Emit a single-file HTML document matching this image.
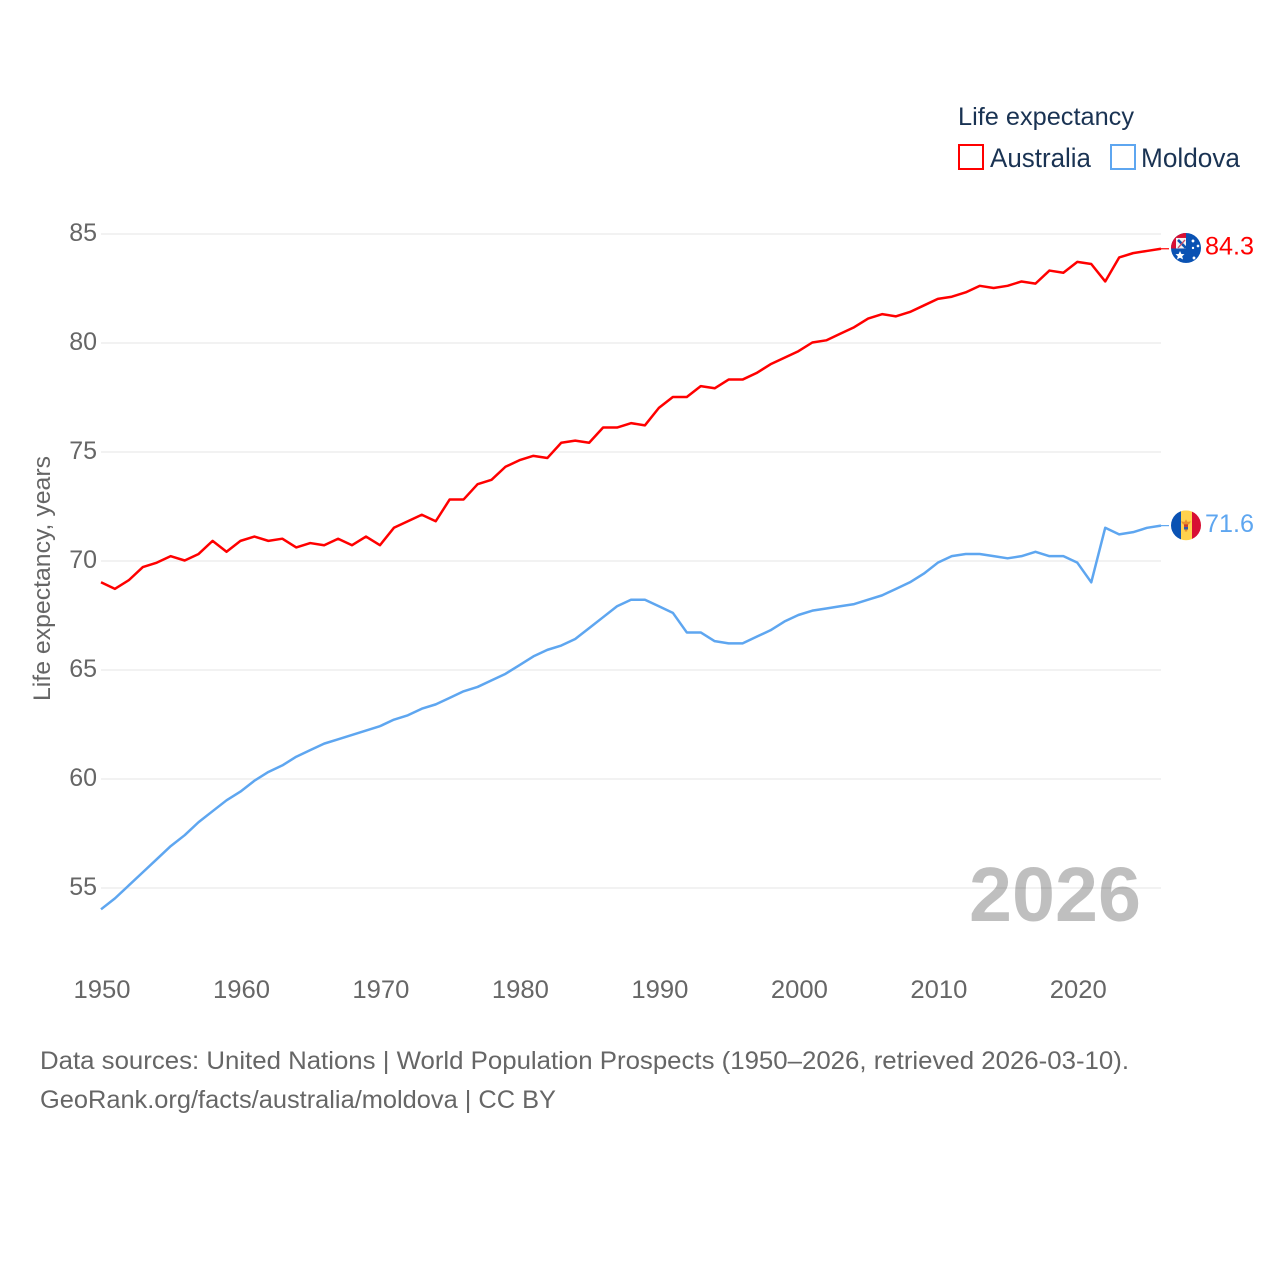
<!DOCTYPE html>
<html lang="en">
<head>
<meta charset="utf-8">
<title>Life expectancy: Australia and Moldova</title>
<style>
html,body{margin:0;padding:0;background:#fff;width:1280px;height:1280px;overflow:hidden}
svg{display:block}
text{font-family:"Liberation Sans",sans-serif}
</style>
</head>
<body>
<svg id="chart" xmlns="http://www.w3.org/2000/svg" width="1280" height="1280" viewBox="0 0 1280 1280">
  <defs>
    <clipPath id="clip-au"><circle cx="0" cy="0" r="15"></circle></clipPath>
    <clipPath id="clip-md"><circle cx="0" cy="0" r="15"></circle></clipPath>
  </defs>
  <g id="grid"></g>
  <g id="yticks"></g>
  <g id="xticks"></g>
  <text transform="translate(50,701) rotate(-90)" font-size="24" fill="#666" textLength="245" lengthAdjust="spacingAndGlyphs">Life expectancy, years</text>
  <text x="969" y="921" font-size="77" font-weight="700" fill="#000" fill-opacity="0.25" textLength="172" lengthAdjust="spacingAndGlyphs">2026</text>
  <g id="series"></g>

  <g id="flag-au">
    <g clip-path="url(#clip-au)">
      <rect x="-15" y="-15" width="30" height="30" fill="#0a52b3"></rect>
      <rect x="-15" y="-15" width="15" height="15.5" fill="#d80f33"></rect>
      <rect x="-10" y="-10" width="10" height="10.5" fill="#f4f4f4"></rect>
      <path d="M-8,-8 L0,0" stroke="#0a52b3" stroke-width="2.6"></path>
      <path d="M-1,-8 L-8,0" stroke="#c9506a" stroke-width="1.4"></path>
      <path d="M-6,3 L-4.6,6 L-1.5,6.2 L-3.8,8.3 L-3,11.5 L-6,9.8 L-9,11.5 L-8.2,8.3 L-10.5,6.2 L-7.4,6 Z" fill="#fff"></path>
      <circle cx="7" cy="-7" r="1.4" fill="#fff"></circle>
      <circle cx="12" cy="-2" r="1.3" fill="#fff"></circle>
      <circle cx="7" cy="0" r="1.2" fill="#fff"></circle>
      <circle cx="8" cy="10" r="1.4" fill="#fff"></circle>
    </g>
  </g>
  <g id="flag-md">
    <g clip-path="url(#clip-md)">
      <rect x="-15" y="-15" width="10" height="30" fill="#0a52b3"></rect>
      <rect x="-5" y="-15" width="11" height="30" fill="#ffd24d"></rect>
      <rect x="6" y="-15" width="9" height="30" fill="#d80f33"></rect>
      <path d="M-5,-4 L-1.5,-3.5 L0,-6 L1.5,-3.5 L5,-4 L3,-1 L-3,-1 Z" fill="#e8912d"></path>
      <rect x="-2" y="-1" width="4" height="2.6" fill="#c9392b"></rect>
      <rect x="-2" y="1.6" width="4" height="2.6" fill="#2e5aa8"></rect>
      <rect x="-1.2" y="4.2" width="2.4" height="2" fill="#e8912d"></rect>
    </g>
  </g>
  <text id="label-au" x="1205" font-size="25" fill="#ff0000" textLength="49" lengthAdjust="spacingAndGlyphs"></text>
  <text id="label-md" x="1205" font-size="25" fill="#5ea6f0" textLength="49" lengthAdjust="spacingAndGlyphs"></text>

  <g>
    <text x="958" y="125" font-size="25" fill="#1a3353" textLength="176" lengthAdjust="spacingAndGlyphs">Life expectancy</text>
    <g>
      <rect x="959" y="145" width="24" height="24" fill="none" stroke="#ff0000" stroke-width="2"></rect>
      <text x="990" y="167" font-size="27" fill="#1a3353" textLength="101" lengthAdjust="spacingAndGlyphs">Australia</text>
    </g>
    <g>
      <rect x="1111" y="145" width="24" height="24" fill="none" stroke="#5ea6f0" stroke-width="2"></rect>
      <text x="1141" y="167" font-size="27" fill="#1a3353" textLength="99" lengthAdjust="spacingAndGlyphs">Moldova</text>
    </g>
  </g>

  <g>
    <text x="40" y="1069" font-size="25" fill="#666" textLength="1089" lengthAdjust="spacingAndGlyphs">Data sources: United Nations | World Population Prospects (1950–2026, retrieved 2026-03-10).</text>
    <text x="40" y="1108" font-size="25" fill="#666" textLength="516" lengthAdjust="spacingAndGlyphs">GeoRank.org/facts/australia/moldova | CC BY</text>
  </g>
</svg>
<script>
var firstYear = 1950;
var lastYear = 2026;
var yTickLabels = [55, 60, 65, 70, 75, 80, 85];
var xTickLabels = [1950, 1960, 1970, 1980, 1990, 2000, 2010, 2020];
var australia = [69.0,68.7,69.1,69.7,69.9,70.2,70.0,70.3,70.9,70.4,
  70.9,71.1,70.9,71.0,70.6,70.8,70.7,71.0,70.7,71.1,
  70.7,71.5,71.8,72.1,71.8,72.8,72.8,73.5,73.7,74.3,
  74.6,74.8,74.7,75.4,75.5,75.4,76.1,76.1,76.3,76.2,
  77.0,77.5,77.5,78.0,77.9,78.3,78.3,78.6,79.0,79.3,
  79.6,80.0,80.1,80.4,80.7,81.1,81.3,81.2,81.4,81.7,
  82.0,82.1,82.3,82.6,82.5,82.6,82.8,82.7,83.3,83.2,
  83.7,83.6,82.8,83.9,84.1,84.2,84.3];
var moldova = [54.0,54.5,55.1,55.7,56.3,56.9,57.4,58.0,58.5,59.0,
  59.4,59.9,60.3,60.6,61.0,61.3,61.6,61.8,62.0,62.2,
  62.4,62.7,62.9,63.2,63.4,63.7,64.0,64.2,64.5,64.8,
  65.2,65.6,65.9,66.1,66.4,66.9,67.4,67.9,68.2,68.2,
  67.9,67.6,66.7,66.7,66.3,66.2,66.2,66.5,66.8,67.2,
  67.5,67.7,67.8,67.9,68.0,68.2,68.4,68.7,69.0,69.4,
  69.9,70.2,70.3,70.3,70.2,70.1,70.2,70.4,70.2,70.2,
  69.9,69.0,71.5,71.2,71.3,71.5,71.6];

var NS = 'http://www.w3.org/2000/svg';
var plotLeft = 101, plotRight = 1161;
function xScale(year) { return plotLeft + (year - firstYear) * (plotRight - plotLeft) / (lastYear - firstYear); }
function yScale(v) { return 888 - (v - 55) * (888 - 234) / 30; }
function make(tag, parent) { var el = document.createElementNS(NS, tag); parent.appendChild(el); return el; }

var grid = document.getElementById('grid');
var yticks = document.getElementById('yticks');
var xticks = document.getElementById('xticks');
var seriesGroup = document.getElementById('series');

yTickLabels.forEach(function (v) {
  var line = make('line', grid);
  
  
  line.setAttribute('x1', plotLeft);
  line.setAttribute('x2', plotRight);
  line.setAttribute('y1', yScale(v));
  line.setAttribute('y2', yScale(v));
  line.setAttribute('stroke', '#eeeeee');
  line.setAttribute('stroke-width', '1.5');
  var t = make('text', yticks);
  
  
  t.setAttribute('x', 97);
  t.setAttribute('y', yScale(v) + 7);
  t.setAttribute('text-anchor', 'end');
  t.setAttribute('font-size', '25');
  t.setAttribute('fill', '#666');
  t.textContent = v;
});

xTickLabels.forEach(function (year) {
  var t = make('text', xticks);
  
  
  t.setAttribute('x', xScale(year) + 1);
  t.setAttribute('y', 998);
  t.setAttribute('text-anchor', 'middle');
  t.setAttribute('font-size', '25');
  t.setAttribute('fill', '#666');
  t.setAttribute('textLength', '57');
  t.setAttribute('lengthAdjust', 'spacingAndGlyphs');
  t.textContent = year;
});

function linePoints(values) {
  return values.map(function (v, i) { return xScale(firstYear + i).toFixed(2) + ',' + (yScale(v) - 0.5).toFixed(2); }).join(' ');
}

var lineAu = make('polyline', seriesGroup);


lineAu.setAttribute('points', linePoints(australia));
lineAu.setAttribute('fill', 'none');
lineAu.setAttribute('stroke', '#ff0000');
lineAu.setAttribute('stroke-width', '2.5');
lineAu.setAttribute('stroke-linejoin', 'round');

var lineMd = make('polyline', seriesGroup);


lineMd.setAttribute('points', linePoints(moldova));
lineMd.setAttribute('fill', 'none');
lineMd.setAttribute('stroke', '#5ea6f0');
lineMd.setAttribute('stroke-width', '2.5');
lineMd.setAttribute('stroke-linejoin', 'round');

var auEnd = australia[australia.length - 1];
var mdEnd = moldova[moldova.length - 1];

var stubAu = make('line', seriesGroup);


stubAu.setAttribute('x1', plotRight);
stubAu.setAttribute('x2', plotRight + 8);
stubAu.setAttribute('y1', yScale(auEnd) - 0.5);
stubAu.setAttribute('y2', yScale(auEnd) - 0.5);
stubAu.setAttribute('stroke', '#ff0000');
stubAu.setAttribute('stroke-width', '1.2');

var stubMd = make('line', seriesGroup);


stubMd.setAttribute('x1', plotRight);
stubMd.setAttribute('x2', plotRight + 8);
stubMd.setAttribute('y1', yScale(mdEnd) - 0.5);
stubMd.setAttribute('y2', yScale(mdEnd) - 0.5);
stubMd.setAttribute('stroke', '#5ea6f0');
stubMd.setAttribute('stroke-width', '1.2');

document.getElementById('flag-au').setAttribute('transform', 'translate(1186,' + (yScale(auEnd) - 1.3) + ')');
document.getElementById('flag-md').setAttribute('transform', 'translate(1186,' + (yScale(mdEnd) - 0.8) + ')');

var labelAu = document.getElementById('label-au');
labelAu.setAttribute('y', yScale(auEnd) + 5);
labelAu.textContent = auEnd.toFixed(1);

var labelMd = document.getElementById('label-md');
labelMd.setAttribute('y', yScale(mdEnd) + 6);
labelMd.textContent = mdEnd.toFixed(1);
</script>
</body>
</html>
